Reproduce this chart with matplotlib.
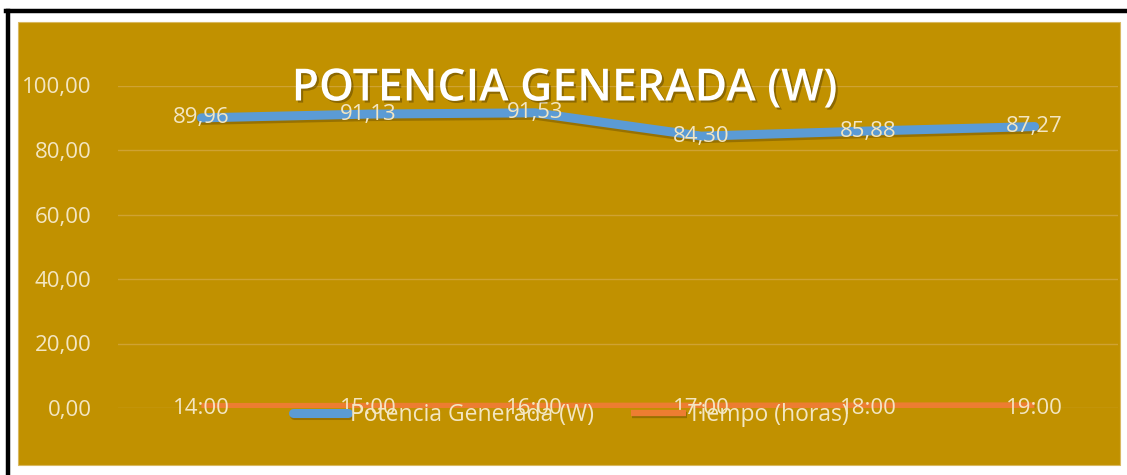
import matplotlib
matplotlib.use("Agg")
import matplotlib.pyplot as plt
import matplotlib.patheffects as pe
from matplotlib.patches import Rectangle
from matplotlib.lines import Line2D

# datos de la medición
horas = ["14:00", "15:00", "16:00", "17:00", "18:00", "19:00"]
potencia = [89.96, 91.13, 91.53, 84.30, 85.88, 87.27]
# el tiempo se guarda como fracción del día (formato hora de la hoja)
tiempo = [int(h.split(":")[0]) / 24 for h in horas]
yticks = [0, 20, 40, 60, 80, 100]

GOLD = "#C19100"
GRID = "#CFA233"
TXT = "#F3E6C2"
BLUE = "#5B9BD5"
ORANGE = "#ED7D31"

plt.rcParams["font.family"] = ["Open Sans", "DejaVu Sans"]

W, H = 1127, 475
fig = plt.figure(figsize=(W / 100, H / 100), dpi=100)
fig.patch.set_facecolor("white")

# fondo del gráfico y marco negro
fig.patches.append(Rectangle((18 / W, 1 - 465 / H), 1102 / W, 443 / H,
                             transform=fig.transFigure, facecolor=GOLD,
                             edgecolor="#D9B860", linewidth=0.8, zorder=-10))
fig.lines.append(Line2D([6 / W, 1], [1 - 11 / H, 1 - 11 / H], transform=fig.transFigure,
                        color="black", linewidth=3.2, zorder=-5))
fig.lines.append(Line2D([8 / W, 8 / W], [0, 1 - 11 / H], transform=fig.transFigure,
                        color="black", linewidth=3.2, zorder=-5))

ax = fig.add_axes([118 / W, 1 - 408 / H, 1000 / W, 322.5 / H])
ax.set_facecolor("none")
x = list(range(len(horas)))

shadow = [pe.SimpleLineShadow(offset=(0.5, -1.8), shadow_color="#3A2A00", alpha=0.3), pe.Normal()]
ax.plot(x, potencia, color=BLUE, linewidth=6.5, solid_capstyle="round",
        label="Potencia Generada (W)", path_effects=shadow, zorder=3)
ax.plot(x, tiempo, color=ORANGE, linewidth=4.5, solid_capstyle="butt",
        label="Tiempo (horas)", path_effects=shadow, zorder=3)

for xi, v in zip(x, potencia):
    ax.text(xi, v, f"{v:.2f}".replace(".", ","), ha="center", va="center",
            color=TXT, fontsize=16, zorder=5)
for xi, h in zip(x, horas):
    ax.text(xi, 0, h, ha="center", va="center", color=TXT, fontsize=16, zorder=5)

ax.set_xlim(-0.5, 5.5)
ax.set_ylim(0, 100)
ax.set_yticks(yticks)
ax.set_yticklabels([f"{t:.2f}".replace(".", ",") for t in yticks], color=TXT, fontsize=16)
ax.set_xticks([])
ax.tick_params(axis="y", length=0, pad=19)
ax.grid(axis="y", color=GRID, linewidth=1)
ax.set_axisbelow(True)
for s in ax.spines.values():
    s.set_visible(False)

fig.text(565 / W, 1 - 89 / H, "POTENCIA GENERADA (W)", ha="center", va="center",
         color="white", fontsize=32, fontweight="semibold",
         path_effects=[pe.withSimplePatchShadow(offset=(1.5, -1.5), shadow_rgbFace="#2A1E00", alpha=0.35)])

leg = ax.legend(loc="center", bbox_to_anchor=(571 / W, 1 - 415 / H), bbox_transform=fig.transFigure,
                ncol=2, frameon=False, fontsize=16.5, handlelength=2.4, handletextpad=0.1,
                columnspacing=1.6, labelcolor=TXT)

fig.savefig("out.png", dpi=100, facecolor="white")
